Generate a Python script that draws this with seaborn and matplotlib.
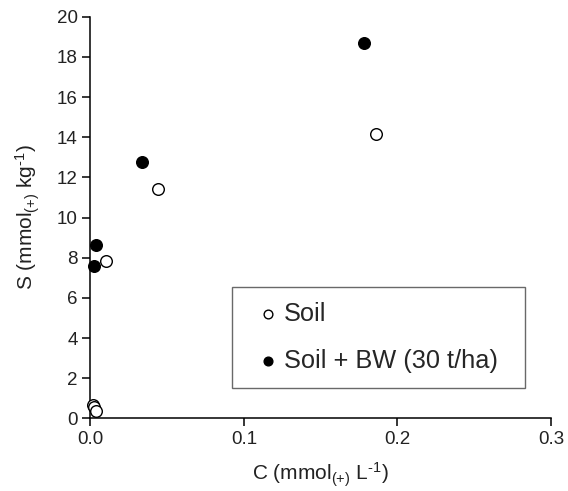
"""Adsorption isotherm scatter: soil vs soil amended with BW."""

import matplotlib
matplotlib.use("Agg")
import matplotlib.pyplot as plt  # noqa: E402
import seaborn as sns  # noqa: E402
import pandas as pd  # noqa: E402

SOIL_C = [0.0019, 0.0026, 0.0037, 0.0102, 0.044, 0.186]
SOIL_S = [0.66, 0.56, 0.36, 7.85, 11.4, 14.15]
BW_C = [0.0022, 0.0037, 0.0335, 0.1784]
BW_S = [7.6, 8.65, 12.75, 18.7]

LABELS = ["Soil", "Soil + BW (30 t/ha)"]
X_TICKS = [0.0, 0.1, 0.2, 0.3]
Y_TICKS = list(range(0, 21, 2))

sns.set_style("ticks")
plt.rcParams["font.family"] = ["Liberation Sans", "DejaVu Sans"]
plt.rcParams["mathtext.fontset"] = "custom"
plt.rcParams["mathtext.rm"] = "Liberation Sans"
plt.rcParams["mathtext.it"] = "Liberation Sans"

df = pd.concat([
    pd.DataFrame({"C": SOIL_C, "S": SOIL_S, "group": LABELS[0]}),
    pd.DataFrame({"C": BW_C, "S": BW_S, "group": LABELS[1]}),
])

fig = plt.figure(figsize=(5.68, 4.91), dpi=100)
ax = fig.add_axes([0.159, 0.148, 0.811, 0.818])

styles = {LABELS[0]: "white", LABELS[1]: "black"}
for name, face in styles.items():
    sub = df[df["group"] == name]
    sns.scatterplot(
        data=sub, x="C", y="S", ax=ax, s=70, marker="o",
        facecolor=face, edgecolor="black", linewidth=1.0,
        label=name, clip_on=False, zorder=3,
    )

ax.set_xlim(0, 0.3)
ax.set_ylim(0, 20)
ax.set_xticks(X_TICKS)
ax.set_xticklabels([f"{t:.1f}" for t in X_TICKS])
ax.set_yticks(Y_TICKS)
ax.tick_params(direction="out", length=6, width=1.1, labelsize=13.5, color="black",
               labelcolor="#222222", pad=3)
for side in ["left", "bottom"]:
    ax.spines[side].set_linewidth(1.1)
    ax.spines[side].set_color("black")
sns.despine(ax=ax)

ax.set_xlabel(r"C (mmol$_{\mathrm{(+)}}$ L$^{\text{-1}}$)", fontsize=15, labelpad=9,
              color="#222222")
ax.set_ylabel(r"S (mmol$_{\mathrm{(+)}}$ kg$^{\text{-1}}$)", fontsize=15, labelpad=11,
              color="#222222")

leg = ax.legend(
    loc="lower left", bbox_to_anchor=(0.3076, 0.0754, 0.637, 0.249), mode="expand",
    borderaxespad=0, frameon=True, fancybox=False, edgecolor="#444444", fontsize=18.3,
    markerscale=0.75, handletextpad=-0.15, labelspacing=0.9, borderpad=0.6,
    handlelength=1.6,
)
leg.get_frame().set_linewidth(1.0)

fig.savefig("out.png", dpi=100)
